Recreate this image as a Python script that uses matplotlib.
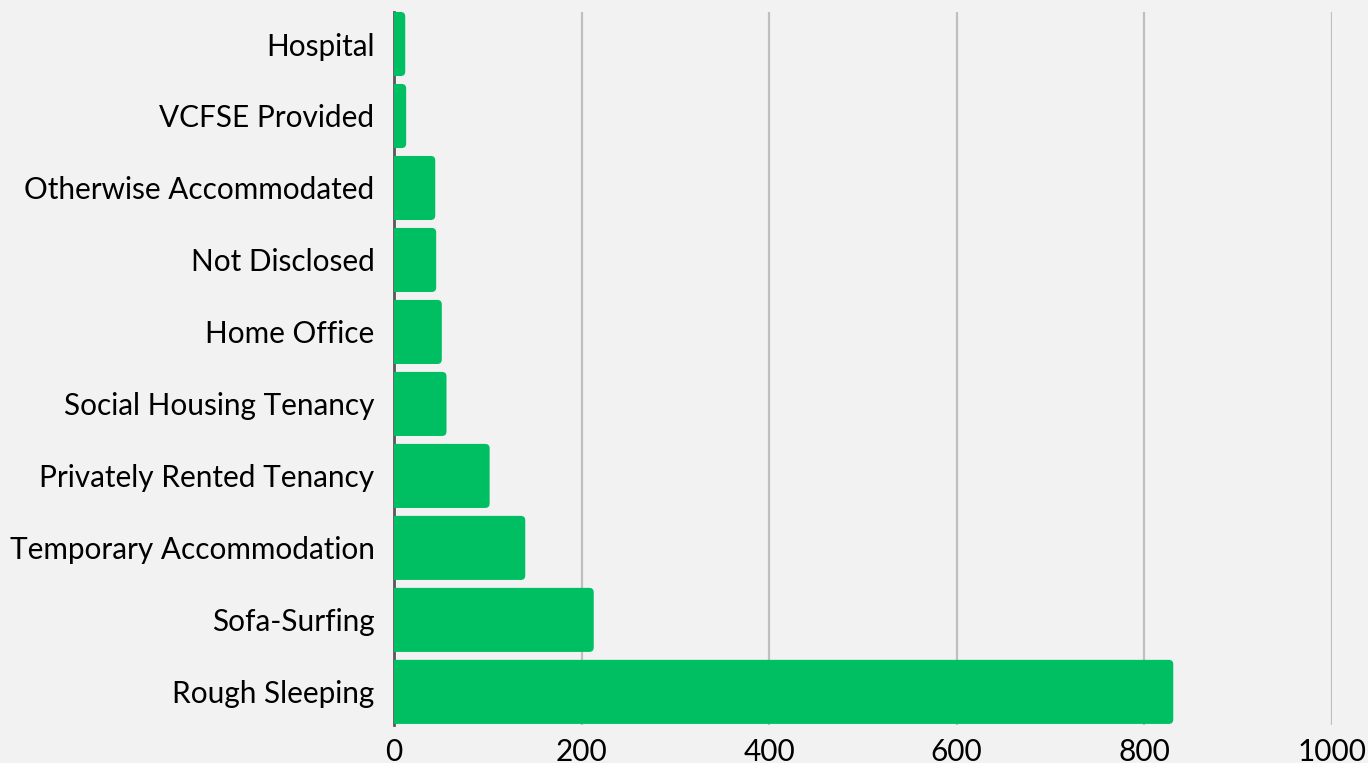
import matplotlib
matplotlib.use("Agg")
import matplotlib.pyplot as plt
from matplotlib.patches import FancyBboxPatch

plt.rcParams['font.family'] = ['Lato', 'DejaVu Sans']

categories = ["Rough Sleeping", "Sofa-Surfing", "Temporary Accommodation",
              "Privately Rented Tenancy", "Social Housing Tenancy", "Home Office",
              "Not Disclosed", "Otherwise Accommodated", "VCFSE Provided", "Hospital"]
counts = [831, 213, 140, 102, 56, 51, 45, 44, 13, 12]
x_ticks = [0, 200, 400, 600, 800, 1000]

green = "#00BF63"
bg = "#F2F2F2"

fig = plt.figure(figsize=(13.68, 7.63), dpi=100, facecolor=bg)
ax = fig.add_axes([0.288, 0.0498, 0.6855, 0.9345], facecolor=bg)

bars = ax.barh(range(len(categories)), counts, height=0.89, color=green)

# swap square bars for ones with rounded ends
px_x = 0.9375   # pixels per data unit along x
px_y = 72.0     # pixels per category along y
r = 4.5 / px_x
for b in bars:
    x0, y0 = b.get_x(), b.get_y()
    w, h = b.get_width(), b.get_height()
    p = FancyBboxPatch((x0 - 2 * r, y0), w + 2 * r, h,
                       boxstyle=f"round,pad=0,rounding_size={r}",
                       mutation_aspect=(px_x / px_y),
                       facecolor=green, edgecolor="none", zorder=3)
    ax.add_patch(p)
    b.set_visible(False)

ax.set_xlim(0, 1000)
ax.set_ylim(-0.46, 9.445)
ax.set_xticks(x_ticks)
ax.set_yticks(range(len(categories)))
ax.set_yticklabels(categories)
ax.tick_params(axis='both', length=0, labelsize=21.4, colors="#000000")
ax.tick_params(axis='y', pad=14)
ax.tick_params(axis='x', pad=9)

ax.xaxis.grid(True, color="#BFBFBF", linewidth=1.6)
ax.set_axisbelow(True)
for s in ["top", "right", "bottom"]:
    ax.spines[s].set_visible(False)
ax.spines["left"].set_color("#595959")
ax.spines["left"].set_linewidth(2)
ax.spines["left"].set_zorder(2.5)

fig.savefig("out.png", dpi=100, facecolor=bg)
